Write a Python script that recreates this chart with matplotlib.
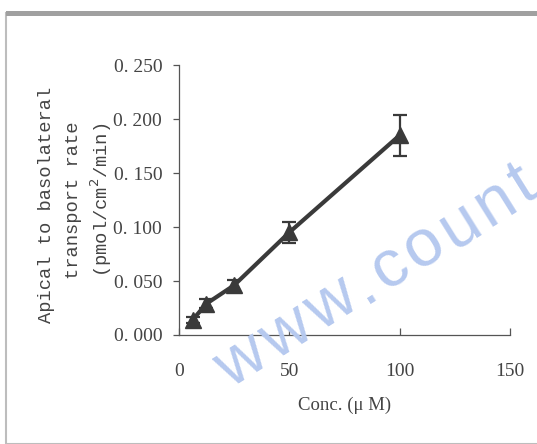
import numpy as np
import matplotlib.pyplot as plt
from matplotlib.patches import Rectangle

# data
conc = [6.25, 12.5, 25, 50, 100]
rate = [0.014, 0.029, 0.046, 0.095, 0.185]
rate_err = [0.003, 0.004, 0.005, 0.010, 0.019]

x_ticks = [0, 50, 100, 150]
y_ticks = [0.0, 0.05, 0.10, 0.15, 0.20, 0.25]
y_tick_labels = ["0. 000", "0. 050", "0. 100", "0. 150", "0. 200", "0. 250"]

W, H = 537, 444
fig = plt.figure(figsize=(W / 100, H / 100), dpi=100)
ax = fig.add_axes([0.333, 0.2455, 0.617, 0.608])
ax.patch.set_alpha(0)

dark = "#3a3a3a"
ax.errorbar(conc, rate, yerr=rate_err, color=dark, linewidth=3.0,
            marker="^", markersize=11, ecolor=dark, elinewidth=1.6,
            capsize=5, capthick=1.6, zorder=3)

ax.set_xlim(0, 150)
ax.set_ylim(0, 0.25)
ax.set_xticks(x_ticks)
ax.set_yticks(y_ticks)
ax.set_yticklabels(y_tick_labels)
for s in ("top", "right"):
    ax.spines[s].set_visible(False)
for s in ("left", "bottom"):
    ax.spines[s].set_color("#555555")
    ax.spines[s].set_linewidth(0.9)

ax.tick_params(axis="y", direction="out", length=4, width=0.9, color="#555555",
               pad=8, labelsize=14, labelcolor="#444444")
ax.tick_params(axis="x", direction="in", length=5, width=0.9, color="#555555",
               pad=20, labelsize=14, labelcolor="#444444")
for lab in ax.get_xticklabels() + ax.get_yticklabels():
    lab.set_family("Liberation Serif")

ax.set_xlabel("Conc. (\u03bc M)", family="Liberation Serif", fontsize=13.5,
              color="#444444", labelpad=12)
fig.text(47 / W, 1 - 205 / H, "Apical to basolateral", rotation=90,
         ha="center", va="center", family="Liberation Mono", fontsize=13.5,
         color="#444444")
fig.text(73 / W, 1 - 200 / H, "transport rate", rotation=90,
         ha="center", va="center", family="Liberation Mono", fontsize=13.5,
         color="#444444")
fig.text(101 / W, 1 - 200 / H, "(pmol/cm$^2$/min)", rotation=90,
         ha="center", va="center", family="Liberation Mono", fontsize=13.5,
         color="#444444")

# watermark, letter by letter so the wide tracking can be matched
wm_chars = "www.count"
wm_adv = {"w": 0.722, ".": 0.278, "c": 0.5, "o": 0.556, "u": 0.556,
          "n": 0.556, "t": 0.278}
wm_size = 48
em = wm_size / 72 * 100
track = 5
ang = 32
d = np.array([np.cos(np.radians(ang)), -np.sin(np.radians(ang))])
base = np.array([250.0, 376.0])
s = 0.0
prev = None
for ch in wm_chars:
    if prev is not None:
        s += (wm_adv[prev] + wm_adv[ch]) / 2 * em + track
    px, py = base + s * d
    fig.text(px / W, 1 - py / H, ch, rotation=ang, rotation_mode="anchor",
             ha="center", va="baseline", family="Liberation Sans",
             fontsize=wm_size, color="#b6c9ef", zorder=0)
    prev = ch

# page border
fig.patches.append(Rectangle((6 / W, 0), 1.2, 1 - 13.5 / H,
                             transform=fig.transFigure, fill=False,
                             edgecolor="#bdbdbd", linewidth=1.5))
fig.patches.append(Rectangle((6 / W, 1 - 16 / H), 1.0, 5 / H,
                             transform=fig.transFigure, color="#a0a0a0",
                             linewidth=0))

fig.savefig("out.png", dpi=100)
